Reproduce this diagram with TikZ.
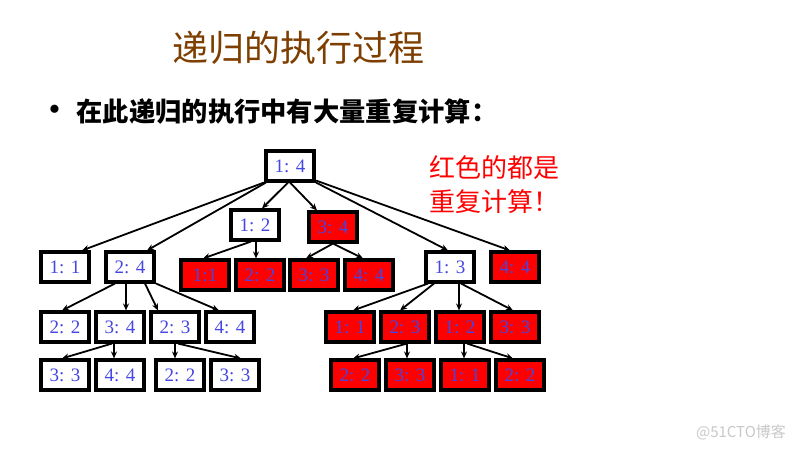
\documentclass[tikz,border=0pt]{standalone}
\usepackage{fontspec}
\setmainfont{Liberation Serif}
\newfontfamily\cjk{Noto Sans CJK SC}
\usetikzlibrary{arrows.meta}
\definecolor{nodeblue}{RGB}{70,70,225}
\definecolor{titlebrown}{RGB}{125,62,0}
\definecolor{wm}{RGB}{200,200,200}
\tikzset{
  box/.style={draw=black, line width=3.6pt, minimum width=48.5pt, minimum height=29.5pt,
    inner sep=0pt, font=\fontsize{19}{19}\selectfont, text=nodeblue, fill=white},
  rbox/.style={box, fill=red},
  edge/.style={-{Stealth[length=7pt,width=6pt]}, line width=1.8pt}
}
\begin{document}
\begin{tikzpicture}[x=1pt,y=-1pt]
\useasboundingbox (0,0) rectangle (800,450);
% texts
\node[font=\cjk\fontsize{36}{40}\selectfont, text=titlebrown] (title) at (298,48) {递归的执行过程};
\node[anchor=west, font=\fontsize{34}{34}\selectfont] (bul) at (45,113) {•};
\node[anchor=west, font=\cjk\bfseries\fontsize{26.3}{28}\selectfont] (sub) at (73,112) {在此递归的执行中有大量重复计算：};
\node[font=\cjk\fontsize{26}{34}\selectfont, text=red, align=left] (note) at (494,185) {红色的都是\\重复计算！};
\node[font=\cjk\fontsize{15}{15}\selectfont, text=wm] (wmark) at (741,432) {@51CTO博客};
% nodes
\node[box]  (root) at (290,166) {1: 4};
\node[box]  (a12) at (255,225) {1: 2};
\node[rbox] (a34) at (333,227) {3: 4};
\node[box]  (b11) at (65,267) {1: 1};
\node[box]  (b24) at (130,267) {2: 4};
\node[rbox] (c11) at (205,275) {1:1};
\node[rbox] (c22) at (260,275) {2: 2};
\node[rbox] (c33) at (314,275) {3: 3};
\node[rbox] (c44) at (369,275) {4: 4};
\node[box]  (b13) at (450,267) {1: 3};
\node[rbox] (b44) at (515,267) {4: 4};
\node[box]  (d22) at (65,327) {2: 2};
\node[box]  (d34) at (120,327) {3: 4};
\node[box]  (d23) at (175,327) {2: 3};
\node[box]  (d44) at (230,327) {4: 4};
\node[box]  (e33) at (65,375) {3: 3};
\node[box]  (e44) at (120,375) {4: 4};
\node[box]  (e22) at (180,375) {2: 2};
\node[box]  (e33b) at (235,375) {3: 3};
\node[rbox] (f11) at (350,327) {1: 1};
\node[rbox] (f23) at (405,327) {2: 3};
\node[rbox] (f12) at (460,327) {1: 2};
\node[rbox] (f33) at (515,327) {3: 3};
\node[rbox] (g22) at (355,375) {2: 2};
\node[rbox] (g33) at (410,375) {3: 3};
\node[rbox] (g11) at (465,375) {1: 1};
\node[rbox] (g22b) at (520,375) {2: 2};
% edges
\draw[edge] (root.south west) -- ([xshift=17pt]b11.north);
\draw[edge] ([xshift=2pt]root.south west) -- ([xshift=17pt]b24.north);
\draw[edge] ([xshift=-2pt]root.south) -- ([xshift=7pt]a12.north);
\draw[edge] (root.south) -- ([xshift=-16pt]a34.north);
\draw[edge] (root.south east) -- ([xshift=-2pt]b13.north);
\draw[edge] ([yshift=2pt]root.south east) -- ([xshift=-5pt]b44.north);
\draw[edge] ([xshift=-4pt]a12.south) -- ([xshift=-2pt]c11.north);
\draw[edge] ([xshift=1pt]a12.south) -- ([xshift=-4pt]c22.north);
\draw[edge] (a34.south) -- ([xshift=-8pt]c33.north);
\draw[edge] (a34.south) -- ([xshift=-6pt]c44.north);
\draw[edge] ([xshift=-15pt]b24.south) -- ([xshift=-3pt]d22.north);
\draw[edge] ([xshift=-4pt]b24.south) -- ([xshift=6pt]d34.north);
\draw[edge] ([xshift=15pt]b24.south) -- ([xshift=-17pt]d23.north);
\draw[edge] (b24.south east) -- ([xshift=-11pt]d44.north);
\draw[edge] ([xshift=-8pt]d34.south) -- ([xshift=-3pt]e33.north);
\draw[edge] ([xshift=-6pt]d34.south) -- ([xshift=-6pt]e44.north);
\draw[edge] (d23.south) -- ([xshift=-5pt]e22.north);
\draw[edge] ([xshift=3pt]d23.south) -- ([xshift=6pt]e33b.north);
\draw[edge] ([xshift=-22pt]b13.south) -- ([xshift=3pt]f11.north);
\draw[edge] ([xshift=-16pt]b13.south) -- ([xshift=-5pt]f23.north);
\draw[edge] ([xshift=9pt]b13.south) -- ([xshift=-1pt]f12.north);
\draw[edge] ([xshift=11pt]b13.south) -- ([xshift=-2pt]f33.north);
\draw[edge] ([xshift=2pt]f23.south) -- ([xshift=-2pt]g22.north);
\draw[edge] ([xshift=2pt]f23.south) -- ([xshift=-3pt]g33.north);
\draw[edge] ([xshift=4pt]f12.south) -- ([xshift=-1pt]g11.north);
\draw[edge] ([xshift=7pt]f12.south) -- ([xshift=-7pt]g22b.north);
\end{tikzpicture}
\end{document}
